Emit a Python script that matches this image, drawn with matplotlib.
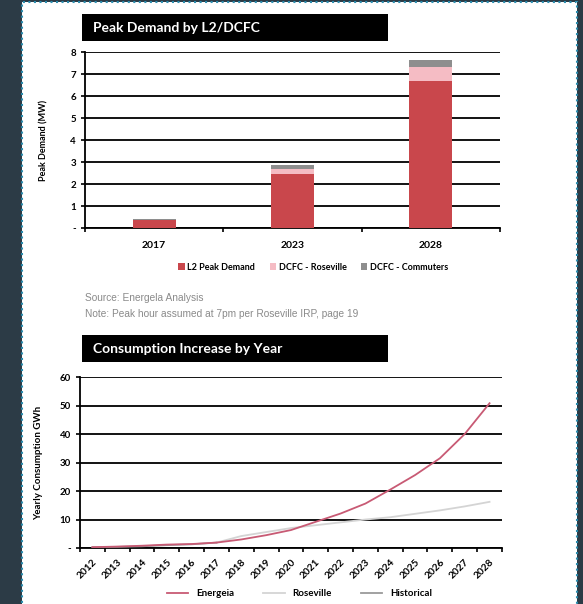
import matplotlib.pyplot as plt
from matplotlib.patches import Rectangle
import numpy as np

# peak demand data (MW)
bar_years = ['2017', '2023', '2028']
l2_peak = [0.35, 2.45, 6.7]
dcfc_roseville = [0.02, 0.25, 0.6]
dcfc_commuters = [0.05, 0.15, 0.33]

# yearly consumption data (GWh)
years = [str(y) for y in range(2012, 2029)]
energeia = [0.3, 0.5, 0.8, 1.2, 1.4, 1.9, 3.0, 4.5, 6.3, 9.2, 12.1, 15.6, 20.5, 25.6, 31.5, 40.0, 50.8]
roseville_years = years[5:]
roseville = [1.9, 4.2, 5.6, 7.0, 8.0, 9.0, 10.0, 10.8, 12.0, 13.2, 14.6, 16.2]
hist_years = years[:6]
historical = [0.3, 0.4, 0.6, 1.0, 1.3, 1.9]

plt.rcParams['font.family'] = ['Lato', 'DejaVu Sans']

fig = plt.figure(figsize=(5.83, 6.04), dpi=100)
fig.patch.set_facecolor('#2c3b46')
# white page with dotted border (runs off the bottom edge)
fig.patches.append(Rectangle((22/583, -0.05), 555/583, 1.05 - 2/604, transform=fig.transFigure,
                             facecolor='white', edgecolor='#2a8cae', linewidth=1.5,
                             linestyle=':', zorder=-5))

# title boxes
for y0, txt in [(0.9321, 'Peak Demand by L2/DCFC'), (0.4007, 'Consumption Increase by Year')]:
    fig.patches.append(Rectangle((0.1407, y0), 0.525, 0.044, transform=fig.transFigure,
                                 facecolor='black', edgecolor='none', zorder=1))
    fig.text(0.1407 + 0.018, y0 + 0.022, txt, color='white', fontsize=10,
             fontweight='bold', va='center', ha='left')

# ---- top chart: stacked bars
ax1 = fig.add_axes([0.1458, 0.6225, 0.7118, 0.2914])
ax1.patch.set_alpha(0)
x = np.arange(len(bar_years))
w = 0.31
ax1.bar(x, l2_peak, w, color='#c9474c', label='L2 Peak Demand', zorder=3)
ax1.bar(x, dcfc_roseville, w, bottom=l2_peak, color='#f5bcc4', label='DCFC - Roseville', zorder=3)
bot2 = np.array(l2_peak) + np.array(dcfc_roseville)
ax1.bar(x, dcfc_commuters, w, bottom=bot2, color='#8e8e8e', label='DCFC - Commuters', zorder=3)
ax1.set_xlim(-0.5, 2.5)
ax1.set_ylim(0, 8)
ax1.set_yticks(range(0, 9))
ax1.set_yticklabels(['-'] + [str(i) for i in range(1, 9)], fontsize=7, fontweight='bold')
ax1.set_xticks([-0.5, 0.5, 1.5, 2.5])
ax1.set_xticklabels([])
ax1.set_xticks(x, minor=True)
ax1.set_xticklabels(bar_years, minor=True, fontsize=7.5, fontweight='bold')
ax1.tick_params(axis='x', which='minor', length=0, pad=9)
ax1.tick_params(axis='x', which='major', length=3, width=1.2)
ax1.tick_params(axis='y', length=3, width=1.2)
ax1.grid(axis='y', color='black', linewidth=1.3, zorder=0)
for s in ['top', 'right']:
    ax1.spines[s].set_visible(False)
ax1.spines['left'].set_linewidth(1.3)
ax1.spines['bottom'].set_linewidth(1.3)
ax1.set_ylabel('Peak Demand (MW)', fontsize=6.5, fontweight='bold', labelpad=16)
ax1.legend(loc='upper center', bbox_to_anchor=(0.55, -0.15), ncol=3, frameon=False,
           prop={'weight': 'bold', 'size': 6.5}, handlelength=0.7, handleheight=0.7,
           columnspacing=1.6, handletextpad=0.3)

fig.text(0.1458, 1 - 298/604, 'Source: Energela Analysis', fontsize=7.3, color='#8a8a8a',
         va='center', family='Liberation Sans')
fig.text(0.1458, 1 - 314/604, 'Note: Peak hour assumed at 7pm per Roseville IRP, page 19',
         fontsize=7.3, color='#8a8a8a', va='center', family='Liberation Sans')

# ---- bottom chart: consumption lines
ax2 = fig.add_axes([0.1372, 0.0927, 0.7238, 0.2831])
ax2.patch.set_alpha(0)
xi = np.arange(len(years))
ax2.plot(xi, energeia, color='#c85a74', linewidth=1.3, label='Energeia', zorder=4)
ax2.plot(xi[5:], roseville, color='#d4d4d4', linewidth=1.3, label='Roseville', zorder=3)
ax2.plot(xi[:6], historical, color='#9a9a9a', linewidth=1.3, label='Historical', zorder=3)
ax2.set_xlim(-0.5, len(years) - 0.5)
ax2.set_ylim(0, 60)
ax2.set_yticks(range(0, 61, 10))
ax2.set_yticklabels(['-'] + [str(i) for i in range(10, 61, 10)], fontsize=7, fontweight='bold')
ax2.set_xticks(np.arange(-0.5, len(years), 1))
ax2.set_xticklabels([])
ax2.set_xticks(xi, minor=True)
ax2.set_xticklabels(years, minor=True, rotation=45, ha='right', rotation_mode='anchor',
                    fontsize=7.3, fontweight='bold')
ax2.tick_params(axis='x', which='minor', length=0, pad=7)
ax2.tick_params(axis='x', which='major', length=3, width=1.2)
ax2.tick_params(axis='y', length=3, width=1.2)
ax2.grid(axis='y', color='black', linewidth=1.3, zorder=0)
for s in ['top', 'right']:
    ax2.spines[s].set_visible(False)
ax2.spines['left'].set_linewidth(1.3)
ax2.spines['bottom'].set_linewidth(1.3)
ax2.set_ylabel('Yearly Consumption GWh', fontsize=7, fontweight='bold', labelpad=12)
ax2.legend(loc='lower center', bbox_to_anchor=(0.52, -0.3), ncol=3, frameon=False,
           prop={'weight': 'bold', 'size': 7}, handlelength=2.2, columnspacing=3,
           borderaxespad=0, borderpad=0.1, bbox_transform=ax2.transAxes)

fig.savefig('out.png', dpi=100, facecolor=fig.get_facecolor())
